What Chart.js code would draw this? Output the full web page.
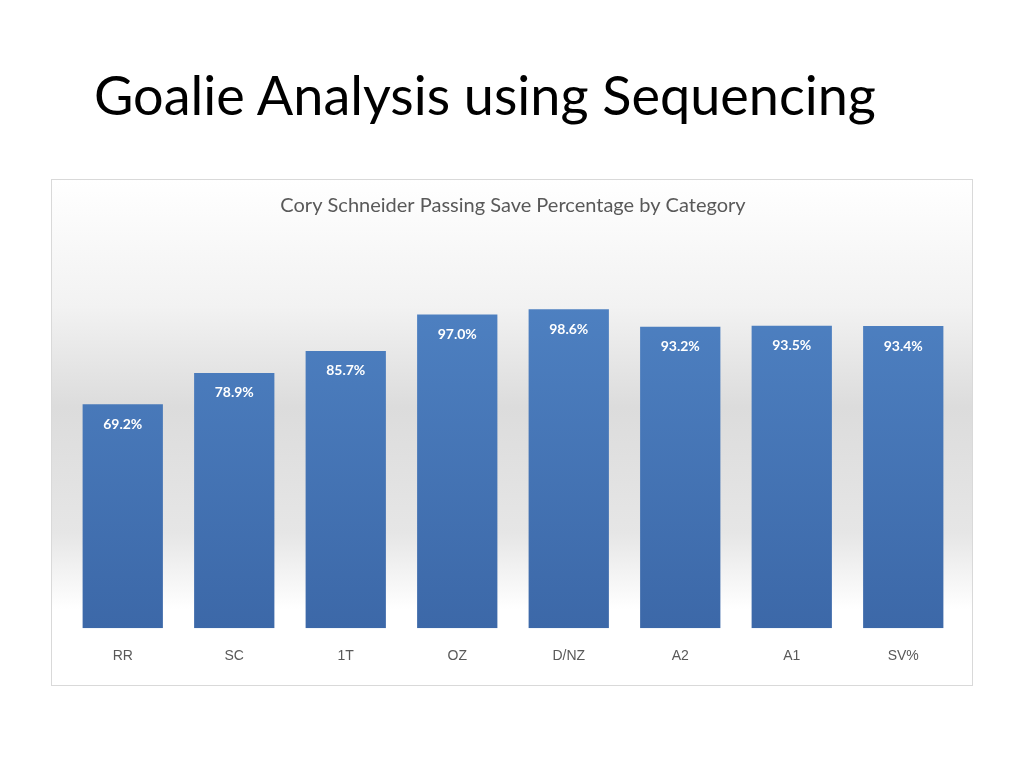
<!DOCTYPE html>
<html lang="en">
<head>
  <meta charset="UTF-8">
  <title>Goalie Analysis using Sequencing</title>
  <script src="https://cdn.jsdelivr.net/npm/chart.js"></script>
  <style>
    body { margin: 0; background: white; font-family: Lato, "Open Sans", sans-serif; }
    h1 {
      position: absolute; left: 94px; top: 62px; margin: 0;
      font-weight: normal; font-size: 54px; color: #000;
    }
    .box {
      position: absolute; left: 51px; top: 179px; width: 920px; height: 505px;
      border: 1px solid #d9d9d9;
      background: linear-gradient(to bottom, #ffffff 0%, #f2f2f2 25%, #dcdcdc 45%, #e6e6e6 70%, #ffffff 85%, #ffffff 100%);
    }
  </style>
</head>
<body>
  <h1>Goalie Analysis using Sequencing</h1>
  <div class="box"><canvas id="c" width="920" height="505"></canvas></div>
  <script>
    const categories = ["RR", "SC", "1T", "OZ", "D/NZ", "A2", "A1", "SV%"];
    const savePct = [69.2, 78.9, 85.7, 97.0, 98.6, 93.2, 93.5, 93.4];

    const labelPlugin = {
      id: 'barLabels',
      afterDatasetsDraw(chart) {
        const ctx = chart.ctx;
        ctx.save();
        ctx.fillStyle = '#ffffff';
        ctx.font = 'bold 14px Lato, "Open Sans", sans-serif';
        ctx.textAlign = 'center';
        ctx.textBaseline = 'middle';
        chart.getDatasetMeta(0).data.forEach((bar, i) => {
          ctx.fillText(savePct[i].toFixed(1) + '%', bar.x, bar.y + 20);
        });
        ctx.restore();
      }
    };

    new Chart(document.getElementById('c'), {
      type: 'bar',
      data: {
        labels: categories,
        datasets: [{
          data: savePct,
          categoryPercentage: 0.72,
          barPercentage: 1,
          backgroundColor: (c) => {
            const area = c.chart.chartArea;
            if (!area) return '#4a7bbd';
            const g = c.chart.ctx.createLinearGradient(0, area.top, 0, area.bottom);
            g.addColorStop(0, '#5185c6');
            g.addColorStop(1, '#3c68a8');
            return g;
          }
        }]
      },
      options: {
        responsive: false,
        animation: false,
        layout: { padding: { left: 15, right: 13, top: 0, bottom: 8 } },
        plugins: {
          legend: { display: false },
          tooltip: { enabled: false },
          title: {
            display: true,
            text: 'Cory Schneider Passing Save Percentage by Category',
            color: '#595959',
            font: { size: 20, weight: 'normal', family: 'Lato, "Open Sans", sans-serif' },
            padding: { top: 14, bottom: 22 }
          }
        },
        scales: {
          x: {
            grid: { display: false },
            border: { display: false },
            ticks: { color: '#595959', font: { size: 14 }, padding: 12 }
          },
          y: { display: false, min: 0, max: 120 }
        }
      },
      plugins: [labelPlugin]
    });
  </script>
</body>
</html>
